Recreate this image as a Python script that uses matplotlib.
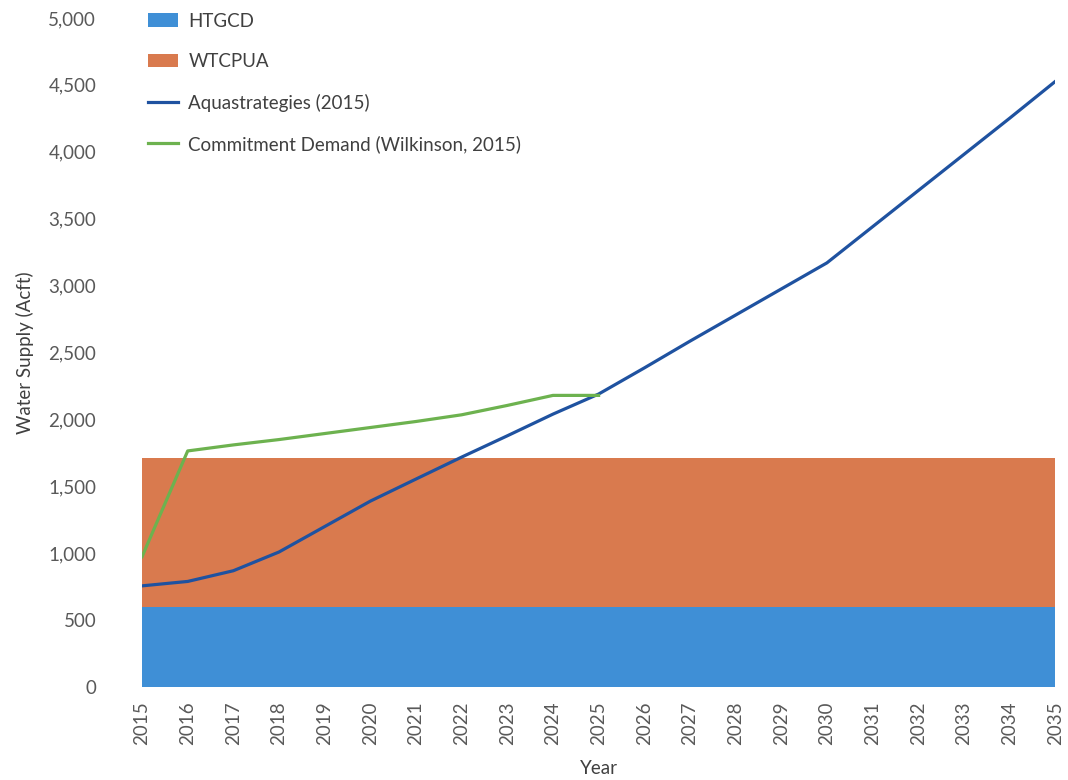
import matplotlib
matplotlib.use("Agg")
import matplotlib.pyplot as plt
from matplotlib.ticker import FuncFormatter

plt.rcParams['font.family'] = ['Lato', 'DejaVu Sans']

years = list(range(2015, 2036))
htgcd = [600] * len(years)
wtcpua = [1110] * len(years)
aquastrategies = [757, 790, 870, 1010, 1200, 1390, 1555, 1719, 1878, 2040, 2190,
                  2385, 2585, 2780, 2975, 3170, 3440, 3710, 3980, 4250, 4525]
commit_years = list(range(2015, 2026))
commitment = [975, 1765, 1810, 1850, 1895, 1940, 1985, 2035, 2105, 2180, 2180]

fig = plt.figure(figsize=(10.68, 7.8), dpi=100)
ax = fig.add_axes([0.133, 0.119, 0.855, 0.858])

c_blue_area = '#3f8fd6'
c_orange = '#d97a4e'
ax.stackplot(years, htgcd, wtcpua, colors=[c_blue_area, c_orange],
             labels=['HTGCD', 'WTCPUA'], linewidth=0)
ax.plot(years, aquastrategies, color='#1f52a0', lw=2.3, label='Aquastrategies (2015)')
ax.plot(commit_years, commitment, color='#6db24f', lw=2.3,
        label='Commitment Demand (Wilkinson, 2015)')

ax.set_xlim(2015, 2035)
ax.set_ylim(0, 5000)
ax.set_yticks(range(0, 5001, 500))
ax.yaxis.set_major_formatter(FuncFormatter(lambda v, p: f"{int(v):,}"))
ax.set_xticks(years)
ax.set_xticklabels([str(y) for y in years], rotation=90)
for s in ax.spines.values():
    s.set_visible(False)
ax.tick_params(axis='both', length=0, colors='#595959', labelsize=13.5)
ax.tick_params(axis='y', pad=33)
ax.tick_params(axis='x', pad=10)

ax.set_xlabel('Year', color='#404040', fontsize=13.5, labelpad=11)
ax.set_ylabel('Water Supply (Acft)', color='#404040', fontsize=13.5, labelpad=10)

leg = ax.legend(loc='upper left', bbox_to_anchor=(0.0066, 1.008), frameon=False,
                fontsize=13.5, labelspacing=1.25, handlelength=1.6,
                handletextpad=0.55, borderaxespad=0, borderpad=0)
for t in leg.get_texts():
    t.set_color('#404040')

fig.savefig('out.png', dpi=100)
